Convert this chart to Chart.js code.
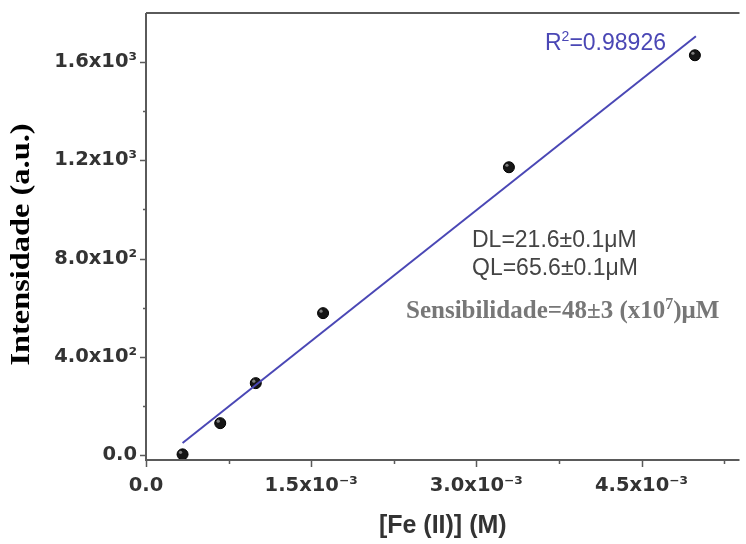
<!DOCTYPE html>
<html>
<head>
<meta charset="utf-8">
<script src="https://cdn.jsdelivr.net/npm/chart.js@4.4.0/dist/chart.umd.min.js"></script>
<style>
    html, body { margin: 0; padding: 0; background: #fff; }
    #wrap { width: 746px; height: 544px; }
</style>
</head>
<body>
<div id="wrap"><canvas id="feChart" width="746" height="544"></canvas></div>
<script>
// Curva de calibração: intensidade vs [Fe(II)]
const feConc = [0.332e-3, 0.674e-3, 0.997e-3, 1.608e-3, 3.296e-3, 4.985e-3];
const intensidade = [3, 130, 293, 578, 1172, 1628];

// extremos da reta de ajuste
const ajusteX = [0.332e-3, 4.994e-3];
const ajusteY = [49, 1705];

const xTicks = [0, 1.5e-3, 3.0e-3, 4.5e-3];
const xTickLabels = ['0.0', '1.5x10⁻³', '3.0x10⁻³', '4.5x10⁻³'];
const xMinor = [0.75e-3, 2.25e-3, 3.75e-3, 5.25e-3];
const yTicks = [0, 400, 800, 1200, 1600];
const yTickLabels = ['0.0', '4.0x10²', '8.0x10²', '1.2x10³', '1.6x10³'];
const yMinor = [200, 600, 1000, 1400];

// texto com sobrescrito simples
function drawRich(ctx, parts, x, y, size, family, weight, color) {
    ctx.fillStyle = color;
    ctx.textBaseline = 'alphabetic';
    ctx.textAlign = 'left';
    let cx = x;
    parts.forEach(function (p) {
        const s = p.sup ? Math.round(size * 0.62) : size;
        ctx.font = weight + ' ' + s + 'px ' + family;
        ctx.fillText(p.t, cx, p.sup ? y - size * 0.38 : y);
        cx += ctx.measureText(p.t).width;
    });
}

const moldura = {
    id: 'moldura',
    afterDatasetsDraw: function (chart) {
        const ctx = chart.ctx;
        const a = chart.chartArea;
        const xs = chart.scales.x;
        const ys = chart.scales.y;
        ctx.save();
        ctx.strokeStyle = '#5a5a5a';
        ctx.lineWidth = 2;
        ctx.beginPath();
        ctx.moveTo(a.left, a.top);
        ctx.lineTo(a.right, a.top);
        ctx.moveTo(a.left, a.top);
        ctx.lineTo(a.left, a.bottom);
        ctx.lineTo(a.right, a.bottom);
        ctx.stroke();

        ctx.lineWidth = 1.5;
        ctx.beginPath();
        xTicks.forEach(function (v) {
            const px = Math.round(xs.getPixelForValue(v)) + 0.5;
            ctx.moveTo(px, a.bottom); ctx.lineTo(px, a.bottom + 7);
        });
        xMinor.forEach(function (v) {
            const px = Math.round(xs.getPixelForValue(v)) + 0.5;
            ctx.moveTo(px, a.bottom); ctx.lineTo(px, a.bottom + 4);
        });
        yTicks.forEach(function (v) {
            const py = Math.round(ys.getPixelForValue(v)) + 0.5;
            ctx.moveTo(a.left, py); ctx.lineTo(a.left - 6, py);
        });
        yMinor.forEach(function (v) {
            const py = Math.round(ys.getPixelForValue(v)) + 0.5;
            ctx.moveTo(a.left, py); ctx.lineTo(a.left - 3, py);
        });
        ctx.stroke();

        // brilho nas esferas
        chart.getDatasetMeta(1).data.forEach(function (pt) {
            ctx.fillStyle = 'rgba(255,255,255,0.45)';
            ctx.beginPath();
            ctx.arc(pt.x - 2, pt.y - 2, 1.6, 0, Math.PI * 2);
            ctx.fill();
        });

        // título do eixo y (um pouco esticado como no original)
        ctx.save();
        ctx.translate(22, (a.top + a.bottom) / 2 + 8);
        ctx.rotate(-Math.PI / 2);
        ctx.scale(1.2, 1);
        ctx.font = 'bold 27px "Liberation Serif", "Times New Roman", serif';
        ctx.fillStyle = '#000';
        ctx.textAlign = 'center';
        ctx.textBaseline = 'middle';
        ctx.fillText('Intensidade (a.u.)', 0, 0);
        ctx.restore();

        // anotações
        drawRich(ctx, [{t: 'R'}, {t: '2', sup: true}, {t: '=0.98926'}], 545, 50, 23, '"Liberation Sans", Arial, sans-serif', 'normal', '#4a47b5');
        drawRich(ctx, [{t: 'DL=21.6±0.1μM'}], 472, 247, 23, '"Liberation Sans", Arial, sans-serif', 'normal', '#444');
        drawRich(ctx, [{t: 'QL=65.6±0.1μM'}], 472, 275, 23, '"Liberation Sans", Arial, sans-serif', 'normal', '#444');
        drawRich(ctx, [{t: 'Sensibilidade=48±3 (x10'}, {t: '7', sup: true}, {t: ')μM'}], 406, 318, 25, '"Liberation Serif", "Times New Roman", serif', 'bold', '#777');
        ctx.restore();
    }
};

const tickFont = { family: '"DejaVu Sans", sans-serif', size: 19.5, weight: 'bold' };

function semPadding(s) {
    s.paddingTop = 0;
    s.paddingBottom = 0;
    s.paddingLeft = 0;
    s.paddingRight = 0;
}

new Chart(document.getElementById('feChart').getContext('2d'), {
    type: 'scatter',
    data: {
        datasets: [
            {
                label: 'Ajuste',
                data: ajusteX.map((x, i) => ({ x: x, y: ajusteY[i] })),
                showLine: true,
                borderColor: '#4a47b5',
                borderWidth: 2,
                pointRadius: 0,
                order: 1
            },
            {
                label: 'Fe(II)',
                data: feConc.map((x, i) => ({ x: x, y: intensidade[i] })),
                backgroundColor: '#161616',
                borderColor: '#000',
                borderWidth: 1,
                pointRadius: 5.5,
                order: 2
            }
        ]
    },
    options: {
        responsive: false,
        animation: false,
        layout: { padding: { top: 13, right: 0, bottom: 0, left: 0 } },
        plugins: {
            legend: { display: false },
            tooltip: { enabled: false }
        },
        scales: {
            x: {
                type: 'linear',
                min: 0,
                max: 5.39e-3,
                afterFit: function (s) { s.height = 84; semPadding(s); },
                afterBuildTicks: function (s) { s.ticks = xTicks.map(v => ({ value: v })); },
                grid: { display: false, drawTicks: false },
                border: { display: false },
                ticks: {
                    autoSkip: false,
                    maxRotation: 0,
                    padding: 14,
                    color: '#333',
                    font: tickFont,
                    callback: function (v, i) { return xTickLabels[i]; }
                },
                title: {
                    display: true,
                    text: '[Fe (II)] (M)',
                    color: '#333',
                    font: { family: '"Liberation Sans", Arial, sans-serif', size: 25, weight: 'bold' },
                    padding: { top: 0, bottom: 3 }
                }
            },
            y: {
                min: -20,
                max: 1800,
                afterFit: function (s) { s.width = 146; semPadding(s); },
                afterBuildTicks: function (s) { s.ticks = yTicks.map(v => ({ value: v })); },
                grid: { display: false, drawTicks: false },
                border: { display: false },
                ticks: {
                    padding: 9,
                    color: '#333',
                    font: tickFont,
                    callback: function (v, i) { return yTickLabels[i]; }
                },
                title: { display: false }
            }
        }
    },
    plugins: [moldura]
});
</script>
</body>
</html>
